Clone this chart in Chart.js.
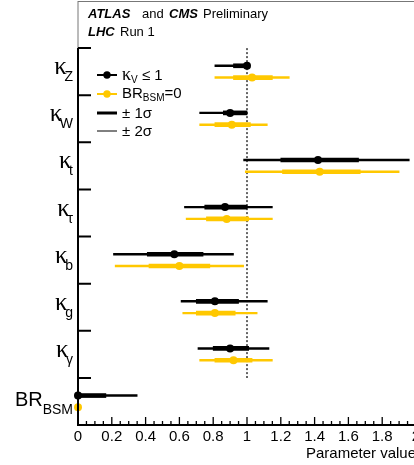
<!DOCTYPE html>
<html>
<head>
<meta charset="utf-8">
<script src="https://cdn.jsdelivr.net/npm/chart.js@4.4.0/dist/chart.umd.min.js"></script>
<style>
  html, body { margin: 0; padding: 0; background: #fff; overflow: hidden; }
  #wrap { position: relative; width: 430px; height: 465px; }
</style>
</head>
<body>
<div id="wrap"><canvas id="chart"></canvas></div>
<script>
// ---- data ----
// row 0 is the empty header row
const categories = ["", "κZ", "κW", "κt", "κτ", "κb", "κg", "κγ", "BRBSM"];
const labelBase = ["", "κ", "κ", "κ", "κ", "κ", "κ", "κ", "BR"];
const labelSub = ["", "Z", "W", "t", "τ", "b", "g", "γ", "BSM"];

// kappa_V <= 1 (black)
const kvValue = [null, 1.00, 0.90, 1.42, 0.87, 0.57, 0.81, 0.90, 0.00];
const kv1sLo  = [null, 0.92, 0.86, 1.20, 0.75, 0.41, 0.70, 0.80, 0.00];
const kv1sHi  = [null, 1.00, 1.00, 1.66, 1.00, 0.74, 0.95, 1.01, 0.165];
const kv2sLo  = [null, 0.81, 0.72, 0.98, 0.63, 0.21, 0.61, 0.71, 0.00];
const kv2sHi  = [null, 1.00, 1.00, 1.96, 1.15, 0.92, 1.12, 1.13, 0.35];

// BR_BSM = 0 (yellow)
const brValue = [null, 1.03, 0.91, 1.43, 0.88, 0.60, 0.81, 0.92, 0.00];
const br1sLo  = [null, 0.92, 0.81, 1.21, 0.76, 0.42, 0.70, 0.81, null];
const br1sHi  = [null, 1.15, 1.02, 1.67, 1.01, 0.78, 0.93, 1.03, null];
const br2sLo  = [null, 0.81, 0.72, 0.99, 0.64, 0.22, 0.62, 0.72, null];
const br2sHi  = [null, 1.25, 1.12, 1.90, 1.15, 0.98, 1.06, 1.15, null];

const xTickValues = [0, 0.2, 0.4, 0.6, 0.8, 1, 1.2, 1.4, 1.6, 1.8, 2];
const xTickLabels = ["0", "0.2", "0.4", "0.6", "0.8", "1", "1.2", "1.4", "1.6", "1.8", "2"];

const BLACK = "#000000";
const YELLOW = "#ffc800";
const ROW_SHIFT = 0.125; // black sits above, yellow below the row centre
const SANS = "'Liberation Sans', Arial, sans-serif";
const SERIF = "'Liberation Serif', 'Times New Roman', serif";

Chart.defaults.font.family = SANS;
Chart.defaults.color = "#000";

function points(vals, shift) {
  const out = [];
  vals.forEach((v, i) => {
    if (v !== null) out.push({ x: v, y: i + 0.5 + shift });
  });
  return out;
}

function ranges(lo, hi, shift) {
  const out = [];
  lo.forEach((l, i) => {
    if (l !== null) out.push({ x: [l, hi[i]], y: i + 0.5 + shift });
  });
  return out;
}

// ---- decorations: frame, inward ticks, labels, legend, header ----
const decor = {
  id: "decor",
  beforeDatasetsDraw(chart) {
    const { ctx, scales: { x, y } } = chart;
    const x1 = x.getPixelForValue(1);
    ctx.save();
    ctx.setLineDash([2, 2]);
    ctx.strokeStyle = "#333";
    ctx.lineWidth = 1.5;
    ctx.beginPath();
    ctx.moveTo(x1, y.getPixelForValue(1));
    ctx.lineTo(x1, y.getPixelForValue(categories.length - 1));
    ctx.stroke();
    ctx.restore();
  },
  afterDatasetsDraw(chart) {
    const { ctx, chartArea: ca, scales: { x, y } } = chart;
    const sep1 = y.getPixelForValue(1);
    ctx.save();

    // frame
    ctx.strokeStyle = "#777";
    ctx.lineWidth = 1;
    ctx.beginPath();
    ctx.moveTo(ca.left, ca.top + 0.5);
    ctx.lineTo(ca.right, ca.top + 0.5);
    ctx.moveTo(ca.left, ca.top);
    ctx.lineTo(ca.left, sep1);
    ctx.stroke();

    ctx.strokeStyle = BLACK;
    ctx.lineWidth = 2;
    ctx.beginPath();
    ctx.moveTo(ca.left, sep1);
    ctx.lineTo(ca.left, ca.bottom);
    ctx.lineTo(ca.right, ca.bottom);
    // row separators
    for (let i = 1; i < categories.length; i++) {
      const yb = y.getPixelForValue(i);
      ctx.moveTo(ca.left, yb);
      ctx.lineTo(ca.left + 13, yb);
    }
    ctx.stroke();

    // inward x ticks
    ctx.lineWidth = 1.3;
    ctx.beginPath();
    for (let k = 0; k <= 40; k++) {
      const px = x.getPixelForValue(k * 0.05);
      const len = k % 4 === 0 ? 8 : 4;
      ctx.moveTo(px, ca.bottom);
      ctx.lineTo(px, ca.bottom - len);
    }
    ctx.stroke();

    // row labels
    ctx.fillStyle = BLACK;
    ctx.textAlign = "left";
    ctx.textBaseline = "alphabetic";
    const rightEdge = ca.left - 5;
    for (let i = 1; i < categories.length; i++) {
      const cy = y.getPixelForValue(i + 0.5);
      const isBR = labelBase[i] === "BR";
      ctx.font = "14px " + SANS;
      const subW = ctx.measureText(labelSub[i]).width;
      const subX = rightEdge - subW;
      ctx.fillText(labelSub[i], subX, cy + (isBR ? 12.5 : 9.5));
      ctx.font = isBR ? "20px " + SANS : "25px " + SERIF;
      const baseW = ctx.measureText(labelBase[i]).width;
      const kern = isBR ? 0 : 2.5;
      ctx.fillText(labelBase[i], subX + kern - baseW, cy + (isBR ? 5 : 2.5));
    }

    // header text
    const L = ca.left, T = ca.top;
    const bi = "italic bold 13px " + SANS;
    const nr = "13px " + SANS;
    ctx.font = bi; ctx.fillText("ATLAS", L + 10, T + 17);
    ctx.font = nr; ctx.fillText("and", L + 64, T + 17);
    ctx.font = bi; ctx.fillText("CMS", L + 91, T + 17);
    ctx.font = nr; ctx.fillText("Preliminary", L + 125, T + 17);
    ctx.font = bi; ctx.fillText("LHC", L + 10, T + 35);
    ctx.font = nr; ctx.fillText("Run 1", L + 42, T + 35);

    // legend
    const lx0 = L + 19, lx1 = L + 39, tx = L + 44;
    const rows = [T + 74, T + 93, T + 112, T + 130];
    const swatch = (ry, color, lw, dot) => {
      ctx.strokeStyle = color;
      ctx.lineWidth = lw;
      ctx.beginPath();
      ctx.moveTo(lx0, ry);
      ctx.lineTo(lx1, ry);
      ctx.stroke();
      if (dot) {
        ctx.fillStyle = color;
        ctx.beginPath();
        ctx.arc((lx0 + lx1) / 2, ry, 3.7, 0, Math.PI * 2);
        ctx.fill();
      }
    };
    swatch(rows[0], BLACK, 2, true);
    swatch(rows[1], YELLOW, 2, true);
    swatch(rows[2], BLACK, 3, false);
    swatch(rows[3], BLACK, 1, false);

    ctx.fillStyle = BLACK;
    let cx = tx;
    ctx.font = "18px " + SERIF; ctx.fillText("κ", cx, rows[0] + 5);
    cx += ctx.measureText("κ").width;
    ctx.font = "10px " + SANS; ctx.fillText("V", cx, rows[0] + 8);
    cx += ctx.measureText("V").width;
    ctx.font = "15px " + SANS; ctx.fillText(" ≤ 1", cx, rows[0] + 5);

    cx = tx;
    ctx.font = "15px " + SANS; ctx.fillText("BR", cx, rows[1] + 4);
    cx += ctx.measureText("BR").width;
    ctx.font = "10px " + SANS; ctx.fillText("BSM", cx, rows[1] + 7);
    cx += ctx.measureText("BSM").width;
    ctx.font = "15px " + SANS; ctx.fillText("=0", cx, rows[1] + 4);

    ctx.fillText("± 1σ", tx, rows[2] + 5);
    ctx.fillText("± 2σ", tx, rows[3] + 5);

    ctx.restore();
  }
};

const barBase = { type: "bar", grouped: false, borderWidth: 0, borderSkipped: false, clip: false };

new Chart(document.getElementById("chart"), {
  type: "bar",
  data: {
    datasets: [
      {
        type: "scatter", label: "kv point", data: points(kvValue, -ROW_SHIFT),
        backgroundColor: BLACK, borderColor: BLACK,
        pointRadius: 4, pointBorderWidth: 0, order: 0, clip: false
      },
      {
        type: "scatter", label: "br point", data: points(brValue, ROW_SHIFT),
        backgroundColor: YELLOW, borderColor: YELLOW,
        pointRadius: 4, pointBorderWidth: 0, order: 0, clip: false
      },
      Object.assign({}, barBase, {
        label: "kv 1s", data: ranges(kv1sLo, kv1sHi, -ROW_SHIFT),
        backgroundColor: BLACK, barThickness: 4, order: 1
      }),
      Object.assign({}, barBase, {
        label: "br 1s", data: ranges(br1sLo, br1sHi, ROW_SHIFT),
        backgroundColor: YELLOW, barThickness: 4, order: 1
      }),
      Object.assign({}, barBase, {
        label: "kv 2s", data: ranges(kv2sLo, kv2sHi, -ROW_SHIFT),
        backgroundColor: BLACK, barThickness: 1.8, order: 2
      }),
      Object.assign({}, barBase, {
        label: "br 2s", data: ranges(br2sLo, br2sHi, ROW_SHIFT),
        backgroundColor: YELLOW, barThickness: 1.8, order: 2
      })
    ]
  },
  options: {
    indexAxis: "y",
    responsive: true,
    maintainAspectRatio: false,
    animation: false,
    events: [],
    layout: { autoPadding: false, padding: { top: 1, right: 14, left: 0, bottom: 0 } },
    plugins: { legend: { display: false }, tooltip: { enabled: false } },
    scales: {
      x: {
        type: "linear",
        position: "bottom",
        min: 0,
        max: 2,
        stacked: false,
        grid: { display: false, drawTicks: false },
        border: { display: false },
        afterBuildTicks: (s) => { s.ticks = xTickValues.map((v) => ({ value: v })); },
        afterFit: (s) => { s.height = 40; },
        ticks: {
          padding: 3,
          font: { size: 15 },
          color: "#000",
          maxRotation: 0,
          autoSkip: false,
          callback: (v, i) => xTickLabels[i]
        },
        title: {
          display: true,
          text: "Parameter value",
          align: "end",
          font: { size: 15 },
          color: "#000",
          padding: { top: 0, bottom: 2 }
        }
      },
      y: {
        type: "linear",
        position: "left",
        offset: false,
        stacked: false,
        min: 0,
        max: categories.length,
        reverse: true,
        grid: { display: false, drawTicks: false },
        border: { display: false },
        ticks: { display: false },
        afterFit: (s) => { s.width = 78; }
      }
    }
  },
  plugins: [decor]
});
</script>
</body>
</html>
